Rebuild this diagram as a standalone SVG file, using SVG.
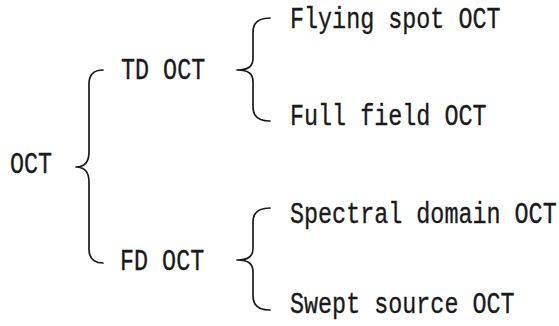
<svg xmlns="http://www.w3.org/2000/svg" width="559" height="326" viewBox="0 0 559 326">
<style>
.t{font-family:"Liberation Mono","DejaVu Sans Mono",monospace;font-size:30px;fill:#1a1a1a;stroke:#1a1a1a;stroke-width:0.35}
.b{fill:none;stroke:#1a1a1a;stroke-width:1.7;stroke-linecap:round;stroke-linejoin:round}
</style>
<rect width="559" height="326" fill="#fff"/>
<g id="connectors">
<path class="b" d="M103,70 Q89,70 89,84 L89,152 C89,162 85,167 76,167 C85,167 89,172 89,182 L89,249 Q89,263 103,263"/>
<path class="b" d="M270,18 Q253,18 253,32 L253,58 C253,66 249,70 237,70 C249,70 253,74 253,82 L253,107 Q253,121 270,121"/>
<path class="b" d="M270,208 Q253,208 253,222 L253,248 C253,256 249,260 237,260 C249,260 253,264 253,272 L253,296 Q253,310 270,310"/>
</g>
<g id="oct"><text class="t" transform="translate(10,173) scale(0.78,1)">OCT</text></g>
<g id="td-oct"><text class="t" transform="translate(121,79) scale(0.78,1)">TD OCT</text></g>
<g id="fd-oct"><text class="t" transform="translate(120,270) scale(0.78,1)">FD OCT</text></g>
<g id="flying-spot"><text class="t" transform="translate(290,28) scale(0.78,1)">Flying spot OCT</text></g>
<g id="full-field"><text class="t" transform="translate(290,125) scale(0.78,1)">Full field OCT</text></g>
<g id="spectral-domain"><text class="t" transform="translate(290,223) scale(0.78,1)">Spectral domain OCT</text></g>
<g id="swept-source"><text class="t" transform="translate(290,313) scale(0.78,1)">Swept source OCT</text></g>
</svg>
